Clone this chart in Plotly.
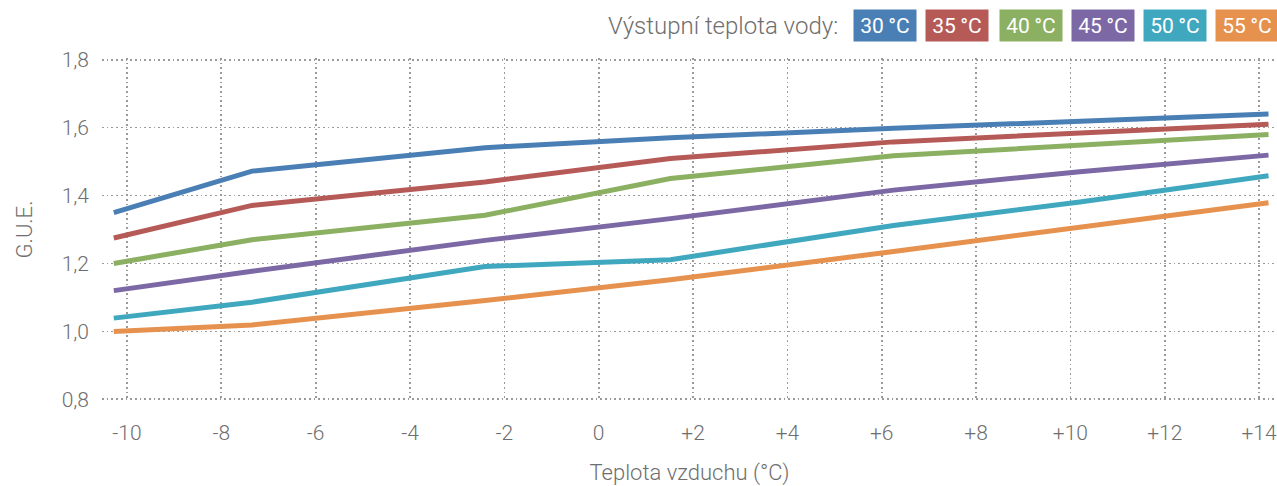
import plotly.graph_objects as go

# Data
air_temp = [-10.28, -7.35, -2.41, 1.52, 6.25, 10.2, 14.2]
series_names = ["30\u2009°C", "35\u2009°C", "40\u2009°C", "45\u2009°C", "50\u2009°C", "55\u2009°C"]
gue_30 = [1.350, 1.472, 1.541, 1.570, 1.598, 1.618, 1.640]
gue_35 = [1.275, 1.371, 1.440, 1.509, 1.558, 1.585, 1.610]
gue_40 = [1.200, 1.270, 1.342, 1.450, 1.517, 1.549, 1.580]
gue_45 = [1.120, 1.177, 1.268, 1.332, 1.416, 1.470, 1.519]
gue_50 = [1.039, 1.086, 1.191, 1.211, 1.312, 1.381, 1.458]
gue_55 = [1.000, 1.019, 1.091, 1.152, 1.235, 1.307, 1.379]
x_tickvals = [-10, -8, -6, -4, -2, 0, 2, 4, 6, 8, 10, 12, 14]
x_ticktext = ["-10", "-8", "-6", "-4", "-2", "0", "+2", "+4", "+6", "+8", "+10", "+12", "+14"]
y_tickvals = [0.8, 1.0, 1.2, 1.4, 1.6, 1.8]

colors = ["#4a7fb6", "#b65a57", "#8bb062", "#7d68a6", "#3fa8bf", "#e6914e"]
all_series = [gue_30, gue_35, gue_40, gue_45, gue_50, gue_55]

FONT = "Roboto"
GRAY = "#6e6e6e"

fig = go.Figure()
for name, vals, col in zip(series_names, all_series, colors):
    fig.add_trace(go.Scatter(x=air_temp, y=vals, mode="lines", name=name,
                             line=dict(color=col, width=5), showlegend=False,
                             hoverinfo="skip"))

fig.update_layout(
    width=1277, height=486,
    margin=dict(l=102, r=0, t=58, b=85),
    plot_bgcolor="white", paper_bgcolor="white",
    separators=", ",
    font=dict(family=FONT, color=GRAY, size=20, weight=300),
    xaxis=dict(range=[-10.53, 14.38], tickvals=x_tickvals, ticktext=x_ticktext,
               showgrid=True, gridcolor="#9a9a9a", gridwidth=1.7, griddash="1.7px,3px",
               zeroline=False, showline=False, ticks="", ticklabelstandoff=17,
               ticklabeloverflow="allow",
               tickfont=dict(size=21, family=FONT, color=GRAY, weight=300),
               title=dict(text="Teplota vzduchu (°C)", standoff=20,
                          font=dict(size=22, family=FONT, color=GRAY, weight=300))),
    yaxis=dict(range=[0.795, 1.805], tickvals=y_tickvals, tickformat=".1f",
               showgrid=True, gridcolor="#9a9a9a", gridwidth=1.7, griddash="1.7px,3px",
               zeroline=False, showline=False, ticks="", ticklabelstandoff=12,
               tickfont=dict(size=21, family=FONT, color=GRAY, weight=300),
               title=dict(text="G.U.E.", standoff=22,
                          font=dict(size=22, family=FONT, color=GRAY, weight=300))),
)

# Custom legend row on top
plot_left, plot_w = 102, 1175
plot_top, plot_h = 58, 486 - 58 - 85

def px_to_paper_x(px):
    return (px - plot_left) / plot_w

def py_to_paper_y(py):
    return (plot_top + plot_h - py) / plot_h

fig.add_annotation(x=px_to_paper_x(840), y=py_to_paper_y(26), xref="paper", yref="paper",
                   xanchor="right", yanchor="middle", showarrow=False,
                   text="Výstupní teplota vody:",
                   font=dict(size=24, family=FONT, color=GRAY, weight=300))

box_lefts = [853, 925, 999, 1071, 1143, 1215]
for name, col, bx in zip(series_names, colors, box_lefts):
    fig.add_annotation(x=px_to_paper_x(bx), y=py_to_paper_y(25), xref="paper", yref="paper",
                       xanchor="left", yanchor="middle", showarrow=False,
                       text=name, bgcolor=col, width=58, height=27, borderpad=2,
                       font=dict(size=21, family=FONT, color="white", weight=400))

fig.write_html("out.html", config={"displayModeBar": False, "staticPlot": True},
               post_script="document.body.style.margin='0';document.body.style.padding='0';")
